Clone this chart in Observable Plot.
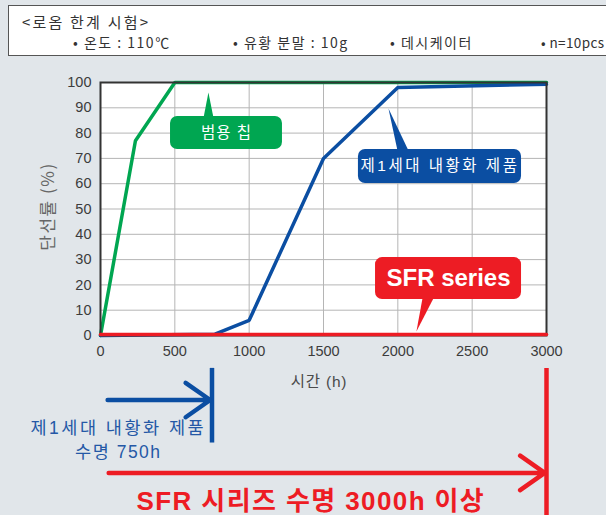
<!DOCTYPE html>
<html><head><meta charset="utf-8">
<script src="https://cdn.jsdelivr.net/npm/d3@7"></script>
<script src="https://cdn.jsdelivr.net/npm/@observablehq/plot@0.6"></script>
<style>
body{margin:0;background:#e1e6ea;width:606px;height:515px;overflow:hidden;font-family:"Liberation Sans","Noto Sans CJK KR",sans-serif;}
#hdr{position:absolute;left:8px;top:5px;width:640px;height:51px;background:#fff;border:1px solid #555;box-sizing:border-box;color:#333;font-family:"Noto Sans CJK KR","Liberation Sans",sans-serif;}
#hdr span{position:absolute;white-space:nowrap;font-size:14px;line-height:16px;letter-spacing:1.5px;}
#chart{position:absolute;left:0;top:60px;}
</style></head><body>
<div id="hdr"></div>
<div id="chart"></div>
<script>
// ---- data ----
const headerTitle = "<로옴 한계 시험>";
const conditions = ["• 온도 : 110℃", "• 유황 분말 : 10g", "• 데시케이터", "• n=10pcs"];
const seriesNames = ["범용 칩", "제1세대 내황화 제품", "SFR series"];
const genHours = [0, 235, 500, 3000];
const genRate = [0, 77, 100, 100];
const gen1Hours = [0, 770, 1000, 1500, 2000, 3000];
const gen1Rate = [0, 0.5, 6, 70, 98, 99.3];
const sfrHours = [0, 3000];
const sfrRate = [0, 0];
const xTicks = [0, 500, 1000, 1500, 2000, 2500, 3000];
const yTicks = [0, 10, 20, 30, 40, 50, 60, 70, 80, 90, 100];
const lifetimes = [750, 3000];
const lifeLabels = [["제1세대 내황화 제품", "수명 750h"], ["SFR 시리즈 수명 3000h 이상"]];
const xLabel = "시간 (h)";
const yLabel = "단선률 (%)";

// ---- header ----
const hdr = document.getElementById("hdr");
const addSpan = (t, l, tp, fs, ls) => { const s = document.createElement("span"); s.textContent = t; s.style.left = l + "px"; s.style.top = tp + "px"; if (fs) s.style.fontSize = fs + "px"; if (ls != null) s.style.letterSpacing = ls + "px"; hdr.appendChild(s); };
addSpan(headerTitle, 13, 8, 15, 2.2);
addSpan(conditions[0], 64, 28);
addSpan(conditions[1], 224, 28);
addSpan(conditions[2], 381, 28);
addSpan(conditions[3], 532, 28, 13.5, 0.4);

// ---- layout of annotations ----
const colors = ["#00a651", "#0b4ea2", "#ed1c24"];
const boxes = [
  {x1: 471, x2: 1224, y1: 73.5, y2: 86.6, tipX: 726, tipY: 96, b1: 693, b2: 760, up: true},
  {x1: 1735, x2: 2832, y1: 60.1, y2: 73.5, tipX: 1937, tipY: 89.7, b1: 1998, b2: 2072, up: true},
  {x1: 1850, x2: 2832, y1: 14.2, y2: 30.8, tipX: 2125, tipY: 1.6, b1: 2166, b2: 2240, up: false}
].map((b, i) => ({...b, label: seriesNames[i], color: colors[i]}));
const pointers = boxes.flatMap((b, i) => {
  const by = b.up ? b.y2 - 0.5 : b.y1 + 0.5;
  return [{id: i, x: b.b1, y: by}, {id: i, x: b.tipX, y: b.tipY}, {id: i, x: b.b2, y: by}];
});

const series = [
  {h: genHours, r: genRate},
  {h: gen1Hours, r: gen1Rate},
  {h: sfrHours, r: sfrRate}
].map((s, i) => s.h.map((h, j) => ({name: seriesNames[i], h, r: s.r[j]})));

const ff = "'Liberation Sans','Noto Sans CJK KR',sans-serif";
const cx = d => (d.x1 + d.x2) / 2, cy = d => (d.y1 + d.y2) / 2;

const plot = Plot.plot({
  width: 606, height: 455,
  marginLeft: 100, marginRight: 60, marginTop: 22, marginBottom: 180,
  style: {background: "transparent", fontFamily: ff, overflow: "visible"},
  x: {domain: [0, 3000]},
  y: {domain: [0, 100]},
  marks: [
    Plot.frame({fill: "#fff"}),
    Plot.gridX(xTicks, {stroke: "#b5b5b5", strokeOpacity: 1, strokeWidth: 1}),
    Plot.gridY(yTicks, {stroke: "#b5b5b5", strokeOpacity: 1, strokeWidth: 1}),
    Plot.axisX(xTicks, {tickSize: 0, tickPadding: 10, tickFormat: "d", label: null, fontSize: 14.5, color: "#3c3c3c"}),
    Plot.axisY(yTicks, {tickSize: 0, tickPadding: 9, tickFormat: "d", label: null, fontSize: 14.5, color: "#3c3c3c"}),
    Plot.line(series[0], {x: "h", y: "r", stroke: colors[0], strokeWidth: 3.5, strokeLinejoin: "miter"}),
    Plot.line(series[1], {x: "h", y: "r", stroke: colors[1], strokeWidth: 3.5, strokeLinejoin: "miter"}),
    Plot.frame({stroke: "#333", strokeWidth: 2}),
    Plot.line(series[2], {x: "h", y: "r", stroke: colors[2], strokeWidth: 3.5, dy: -1}),
    // callouts
    Plot.line(pointers, {x: "x", y: "y", z: "id", fill: d => colors[d.id], stroke: "none"}),
    Plot.rect(boxes, {x1: "x1", x2: "x2", y1: "y1", y2: "y2", fill: "color", rx: 7}),
    Plot.text(boxes.slice(0, 1), {x: cx, y: cy, text: "label", fill: "#fff", fontSize: 15.5, fontFamily: ff}),
    Plot.text(boxes.slice(1, 2), {x: cx, y: cy, text: "label", fill: "#fff", fontSize: 15.5, fontFamily: ff}),
    Plot.text(boxes.slice(2, 3), {x: cx, y: cy, text: "label", fill: "#fff", fontSize: 24, fontWeight: "bold", fontFamily: ff}),
    // axis titles
    Plot.text([xLabel], {x: 1470, y: -18.2, text: d => d, fontSize: 15.5, fill: "#4a4a4a"}),
    Plot.text([yLabel], {x: -350, y: 51, rotate: -90, text: d => d, fontSize: 17, fill: "#666", fontFamily: "'Noto Sans CJK KR',sans-serif"}),
    // lifetime indicators
    Plot.ruleX([lifetimes[0]], {x: d => d, y1: -13, y2: -42.5, stroke: colors[1], strokeWidth: 4.5}),
    Plot.ruleX([lifetimes[1]], {x: d => d, y1: -13, y2: -72, stroke: colors[2], strokeWidth: 4.5}),
    Plot.arrow([lifetimes[0]], {x1: 48, x2: d => d - 12, y1: -25.5, y2: -25.5, stroke: colors[1], strokeWidth: 4.5, headLength: 10, headAngle: 70}),
    Plot.arrow([lifetimes[1]], {x1: 55, x2: d => d - 12, y1: -54.3, y2: -54.3, stroke: colors[2], strokeWidth: 4.5, headLength: 10, headAngle: 70}),
    Plot.text(lifeLabels[0], {x: 120, y: (d, i) => i === 0 ? -36.8 : -46.3, text: d => d, fontSize: 17.5, fill: "#2458a6", fontFamily: ff}),
    Plot.text(lifeLabels[1], {x: 1415, y: -65.8, text: d => d, fontSize: 26, fontWeight: "bold", fill: colors[2], fontFamily: ff})
  ]
});
// letter spacing for wide-set labels
const spacing = new Map([
  [seriesNames[1], 2.4], [lifeLabels[0][0], 2.5], [lifeLabels[0][1], 1.5],
  [lifeLabels[1][0], 1.4], [yLabel, 1.5], [xLabel, 0.8], [seriesNames[0], 1]
]);
d3.select(plot).selectAll("text").each(function () {
  const s = spacing.get(this.textContent);
  if (s != null) this.style.letterSpacing = s + "px";
});
document.getElementById("chart").appendChild(plot);
</script>
</body></html>
